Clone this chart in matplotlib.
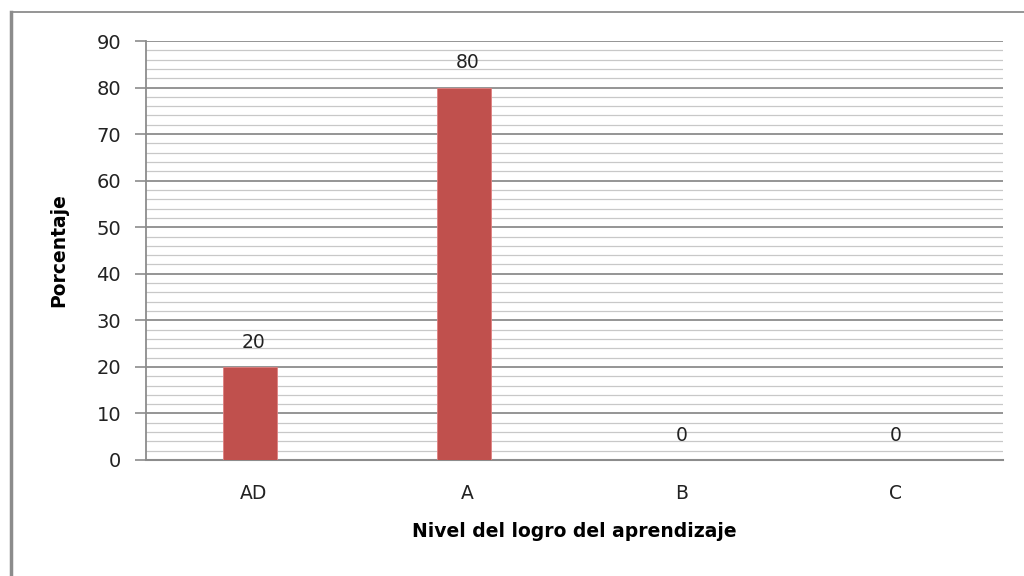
import matplotlib.pyplot as plt
import numpy as np
from matplotlib.lines import Line2D

niveles = ["AD", "A", "B", "C"]
porcentaje = [20, 80, 0, 0]

fig = plt.figure(figsize=(10.24, 5.76), dpi=100)
ax = fig.add_axes([0.1426, 0.2014, 0.8369, 0.7274])

x = np.arange(len(niveles))
ax.bar(x - 0.015, porcentaje, width=0.25, color="#C0504D", edgecolor="#E08080", linewidth=0.6, zorder=3)

for xi, v in zip(x, porcentaje):
    ax.annotate(str(v), (xi, v), xytext=(0, 11), textcoords="offset points",
                ha="center", va="bottom", fontsize=13.5, color="#222222")

ax.set_xlim(-0.5, len(niveles) - 0.5)
ax.set_ylim(0, 90)
ax.set_yticks(np.arange(0, 91, 10))
ax.set_yticks(np.arange(0, 91, 2), minor=True)
ax.set_xticks(x)
ax.set_xticklabels(niveles)

ax.grid(axis="y", which="major", color="#8c8c8c", linewidth=1.3, zorder=0)
ax.grid(axis="y", which="minor", color="#c8c8c8", linewidth=0.9, zorder=0)
ax.set_axisbelow(True)

for s in ["top", "right"]:
    ax.spines[s].set_visible(False)
ax.spines["left"].set_color("#8c8c8c")
ax.spines["bottom"].set_color("#8c8c8c")
ax.spines["left"].set_linewidth(1.3)
ax.spines["bottom"].set_linewidth(1.5)

ax.tick_params(axis="y", which="major", length=8, color="#8c8c8c", width=1.2,
               labelsize=14, pad=10, labelcolor="#222222")
ax.tick_params(axis="y", which="minor", length=0)
ax.tick_params(axis="x", length=0, labelsize=13.5, pad=17, labelcolor="#222222")

ax.set_xlabel("Nivel del logro del aprendizaje", fontsize=13.5, fontweight="bold", labelpad=14)
ax.set_ylabel("Porcentaje", fontsize=13.5, fontweight="bold", labelpad=20)

# outer frame lines (left and top)
fig.add_artist(Line2D([0.0107, 0.0107], [0, 0.979], transform=fig.transFigure, color="#8c8c8c", linewidth=2.5))
fig.add_artist(Line2D([0.0107, 1.0], [0.979, 0.979], transform=fig.transFigure, color="#8c8c8c", linewidth=1.3))

fig.savefig("out.png", dpi=100)
